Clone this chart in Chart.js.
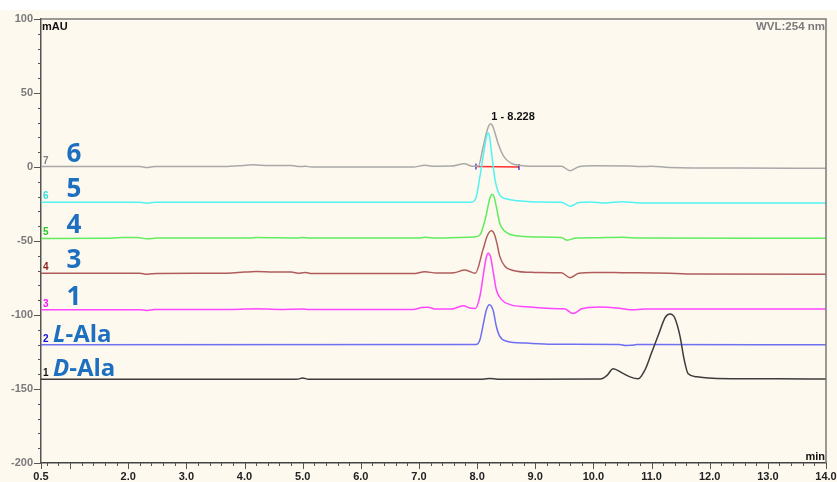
<!DOCTYPE html>
<html>
<head>
<meta charset="utf-8">
<script src="https://cdn.jsdelivr.net/npm/chart.js@4.4.1/dist/chart.umd.min.js"></script>
<style>
  html, body { margin: 0; padding: 0; background: #fff; }
  canvas { display: block; }
</style>
</head>
<body>
<canvas id="chrom" width="837" height="482"></canvas>
<script>
// [retention time (min), signal (mAU)]
const trace1 = [[0.5,-143.4],[4.9,-143.4],[5.0,-142.6],[5.1,-143.4],[8.1,-143.4],[8.22,-142.9],[8.35,-143.4],
  [10.12,-143.3],[10.23,-141],[10.34,-136.3],[10.49,-139.1],[10.63,-141.8],[10.77,-143.1],[10.89,-136.8],
  [11.0,-125.5],[11.12,-113.2],[11.23,-102],[11.28,-99.8],[11.32,-99.3],[11.36,-99.9],[11.4,-102],
  [11.49,-114.4],[11.56,-130],[11.63,-139.7],[11.78,-141.8],[12.12,-142.9],[13.15,-143.1],[14,-143.3]];
const trace2 = [[0.5,-120.1],[7.98,-120],[8.05,-116.6],[8.11,-105.4],[8.16,-96.4],[8.21,-93],[8.245,-94],
  [8.28,-97.5],[8.33,-107.6],[8.39,-114.4],[8.51,-117.7],[8.85,-119],[9.3,-119.7],[10.45,-119.9],
  [10.55,-120.6],[10.65,-120.5],[10.75,-120],[14,-120.1]];
const trace3 = [[0.5,-96.4],[2.2,-96.4],[2.32,-96.9],[2.45,-96.3],[3.8,-96.2],[4.2,-95.7],[4.6,-96.2],
  [5.0,-95.9],[5.1,-96.3],[6.9,-96.3],[7.05,-95.0],[7.15,-94.8],[7.3,-96.0],[7.55,-96.0],[7.76,-93.8],
  [7.9,-95.5],[7.97,-95.6],[8.05,-87],[8.11,-72],[8.155,-61.5],[8.19,-58.2],[8.23,-60.5],[8.28,-71.6],
  [8.33,-82.9],[8.42,-89.6],[8.57,-93],[8.85,-94.5],[9.2,-95.5],[9.5,-95.8],[9.65,-99],[9.8,-95.8],
  [10.1,-94.6],[10.4,-95.2],[10.65,-96.5],[10.9,-96.0],[14,-96.0]];
const trace4 = [[0.5,-71.8],[2.2,-71.8],[2.32,-72.5],[2.5,-71.9],[3.7,-71.8],[4.0,-71.0],[4.2,-70.6],
  [4.5,-71.0],[4.8,-71.0],[4.95,-71.8],[5.05,-71.2],[5.15,-72.0],[6.9,-72.0],[7.1,-70.8],[7.3,-71.6],
  [7.6,-71.4],[7.79,-69.6],[7.97,-71.8],[8.1,-56],[8.17,-47],[8.21,-44],[8.25,-43.1],[8.29,-44.8],
  [8.34,-51.4],[8.39,-60.4],[8.48,-67.2],[8.62,-69.9],[8.97,-71.2],[9.45,-71.5],[9.6,-74.8],[9.75,-71.8],
  [10.0,-71.2],[10.5,-71.4],[11.3,-71.8],[11.6,-72.3],[14,-72.4]];
const trace5 = [[0.5,-48.3],[1.6,-48.2],[1.9,-47.6],[2.15,-47.6],[2.32,-48.5],[2.5,-48],[4.1,-48],[4.2,-47.7],
  [4.9,-48],[5.0,-47.6],[5.1,-48],[7.0,-48],[7.1,-47.5],[7.3,-48],[7.7,-47.6],[7.95,-47.3],[8.05,-45.8],
  [8.15,-33.5],[8.22,-21],[8.26,-18.4],[8.29,-20],[8.33,-26.7],[8.39,-38],[8.51,-44.3],[8.68,-46.5],
  [9.0,-47.3],[9.45,-47.6],[9.55,-49.5],[9.7,-48],[10.0,-47.8],[10.5,-47.5],[10.8,-48],[14,-48.1]];
const trace6 = [[0.5,-23.9],[2.2,-23.9],[2.32,-24.5],[2.45,-23.9],[7.9,-23.8],[7.98,-21],[8.05,-6],[8.14,16],
  [8.165,21.2],[8.19,23],[8.215,20.5],[8.25,9],[8.31,-9],[8.39,-19],[8.5,-21.5],[8.7,-22.8],[9.0,-23.6],
  [9.45,-23.8],[9.6,-26.5],[9.75,-24],[9.95,-23.6],[10.2,-24.3],[10.5,-23.4],[10.8,-24.3],[14,-24.4]];
const trace7 = [[0.5,0.3],[1.5,0.3],[2.2,0.3],[2.32,-0.4],[2.45,0.3],[3.7,0.3],[3.9,0.8],[4.15,1.5],[4.4,1.0],
  [4.8,1.0],[4.95,0.3],[5.05,0.5],[5.15,0],[6.9,0],[7.1,1.2],[7.25,0.5],[7.55,0.6],[7.78,2.2],[7.92,0.5],
  [8.02,0.5],[8.1,13],[8.16,23],[8.2,27.8],[8.23,29],[8.26,28.3],[8.3,24],[8.36,16],[8.42,10],[8.48,6],
  [8.59,2.5],[8.75,1],[8.9,0.5],[9.45,0.5],[9.6,-2.5],[9.75,0.2],[10.0,0.8],[10.6,0.7],[10.8,0.3],
  [11.0,0.5],[11.3,-0.3],[12.5,-0.7],[14,-0.8]];

const traces = [trace1, trace2, trace3, trace4, trace5, trace6, trace7];
const traceIds = ['1', '2', '3', '4', '5', '6', '7'];
const sampleNames = ['D-Ala', 'L-Ala', '1', '3', '4', '5', '6'];

// integrated peak on trace 7
const peakLabel = '1 - 8.228';
const peakTime = 8.228;
const peakHeight = 29;
const integrationLine = [[7.98, 0.3], [8.72, 0.0]];

const xTickLabels = [0.5, 2, 3, 4, 5, 6, 7, 8, 9, 10, 11, 12, 13, 14];
const yTickLabels = [100, 50, 0, -50, -100, -150, -200];

const lineColors = ['#3c3c3c', '#6f6ff2', '#ff45ff', '#b05c5c', '#5fec5f', '#52f2f2', '#a9a9a9'];
const idColors = ['#111111', '#1010e0', '#ff10ff', '#8b1a1a', '#22cc22', '#30dede', '#808080'];
const sampleColor = '#1d6fc0';
const cream = '#fef9ef';
const baseFont = "'Liberation Sans', Arial, sans-serif";

const datasets = traces.map((t, i) => ({
  data: t,
  borderColor: lineColors[i],
  borderWidth: 1.5,
  pointRadius: 0,
  cubicInterpolationMode: 'monotone',
  fill: false
}));
datasets.push({
  data: integrationLine,
  borderColor: '#ff3030',
  borderWidth: 1.5,
  pointStyle: 'line',
  pointRotation: 90,
  pointRadius: 3,
  pointBorderColor: '#2020d0',
  pointBorderWidth: 1.2,
  fill: false
});

const decor = {
  id: 'decor',
  beforeDraw(chart) {
    const ctx = chart.ctx;
    ctx.save();
    ctx.fillStyle = cream;
    ctx.fillRect(0, 10, chart.width, chart.height - 10);
    ctx.restore();
  },
  afterDraw(chart) {
    const ctx = chart.ctx;
    const a = chart.chartArea;
    const xs = chart.scales.x, ys = chart.scales.y;
    ctx.save();

    // frame top + right
    ctx.strokeStyle = '#7a7a7a';
    ctx.lineWidth = 1.5;
    ctx.beginPath();
    ctx.moveTo(a.left, a.top); ctx.lineTo(a.right, a.top); ctx.lineTo(a.right, a.bottom);
    ctx.stroke();

    // tick marks
    ctx.strokeStyle = '#555';
    ctx.lineWidth = 1;
    xs.ticks.forEach(tk => {
      const px = Math.round(xs.getPixelForValue(tk.value)) + 0.5;
      const major = Math.abs(tk.value - Math.round(tk.value)) < 1e-6 || tk.value === 0.5;
      ctx.beginPath();
      ctx.moveTo(px, a.bottom); ctx.lineTo(px, a.bottom + (major ? 6 : 3));
      ctx.stroke();
    });
    ys.ticks.forEach(tk => {
      const py = Math.round(ys.getPixelForValue(tk.value)) + 0.5;
      const major = tk.value % 50 === 0;
      ctx.beginPath();
      ctx.moveTo(a.left, py); ctx.lineTo(a.left - (major ? 7 : 3), py);
      ctx.stroke();
    });

    // axis titles
    ctx.font = 'bold 11px ' + baseFont;
    ctx.fillStyle = '#111';
    ctx.textBaseline = 'top';
    ctx.textAlign = 'left';
    ctx.fillText('mAU', a.left + 1, a.top + 2);
    ctx.textAlign = 'right';
    ctx.textBaseline = 'alphabetic';
    ctx.fillText('min', a.right - 1, a.bottom - 3);
    ctx.fillStyle = '#7a7a7a';
    ctx.font = 'bold 11.5px ' + baseFont;
    ctx.textBaseline = 'top';
    ctx.fillText('WVL:254 nm', a.right - 1, a.top + 2);

    // peak annotation
    ctx.fillStyle = '#111';
    ctx.font = 'bold 11px ' + baseFont;
    ctx.textAlign = 'left';
    ctx.textBaseline = 'alphabetic';
    ctx.fillText(peakLabel, xs.getPixelForValue(peakTime) + 1, ys.getPixelForValue(peakHeight) - 4);

    // trace ids and sample names
    traces.forEach((t, i) => {
      const base = ys.getPixelForValue(t[0][1]);
      ctx.font = 'bold 10px ' + baseFont;
      ctx.fillStyle = idColors[i];
      ctx.textAlign = 'left';
      ctx.fillText(traceIds[i], a.left + 2, base - 3);

      ctx.fillStyle = sampleColor;
      const name = sampleNames[i];
      if (name.indexOf('-') > 0) {
        const first = name.slice(0, 1), rest = name.slice(1);
        ctx.font = "italic 700 24px 'Open Sans', sans-serif";
        ctx.fillText(first, a.left + 12, base - 3);
        const w = ctx.measureText(first).width;
        ctx.font = "700 24px 'Open Sans', sans-serif";
        ctx.fillText(rest, a.left + 12 + w, base - 3);
      } else {
        ctx.font = "700 26px 'Open Sans', sans-serif";
        ctx.textAlign = 'center';
        ctx.fillText(name, a.left + 33, base - 5);
      }
    });
    ctx.restore();
  }
};

const minorX = [];
for (let k = 3; k <= 70; k++) minorX.push(Math.round(k * 2) / 10);

new Chart(document.getElementById('chrom'), {
  type: 'line',
  data: { datasets: datasets },
  options: {
    responsive: false,
    animation: false,
    layout: { padding: { top: 19, right: 11, left: 0, bottom: 0 } },
    plugins: { legend: { display: false }, tooltip: { enabled: false } },
    scales: {
      x: {
        type: 'linear',
        min: 0.5,
        max: 14,
        afterBuildTicks: s => { s.ticks = [0.5].concat(minorX).map(v => ({ value: v })); },
        afterFit: s => { s.height = 19; s.paddingLeft = 0; s.paddingRight = 0; },
        grid: { display: false, drawTicks: false },
        border: { display: true, color: '#444', width: 1.5 },
        ticks: {
          autoSkip: false,
          maxRotation: 0,
          padding: 7,
          color: '#222',
          font: { family: baseFont, size: 11, weight: 'bold' },
          callback: v => xTickLabels.indexOf(v) >= 0 ? v.toFixed(1) : ''
        }
      },
      y: {
        min: -200,
        max: 100,
        afterBuildTicks: s => {
          const t = [];
          for (let v = -200; v <= 100; v += 10) t.push({ value: v });
          s.ticks = t;
        },
        afterFit: s => { s.width = 41; s.paddingTop = 0; s.paddingBottom = 0; },
        grid: { display: false, drawTicks: false },
        border: { display: true, color: '#555', width: 1.5 },
        ticks: {
          autoSkip: false,
          padding: 8,
          color: '#7a7a7a',
          font: { family: baseFont, size: 11, weight: 'bold' },
          callback: v => yTickLabels.indexOf(v) >= 0 ? String(v) : ''
        }
      }
    }
  },
  plugins: [decor]
});
</script>
</body>
</html>
